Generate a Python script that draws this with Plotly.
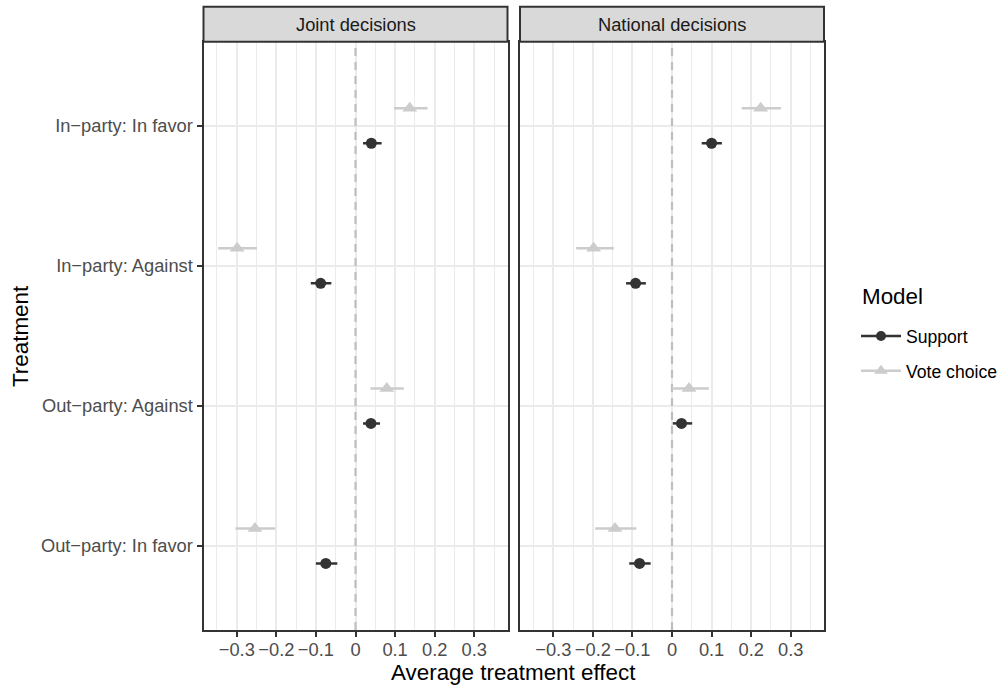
import plotly.graph_objects as go

# ---------------- data ----------------
treatments = ["In\u2212party: In favor", "In\u2212party: Against",
              "Out\u2212party: Against", "Out\u2212party: In favor"]
panels = ["Joint decisions", "National decisions"]
models = ["Support", "Vote choice"]

joint_support_est = [0.040, -0.088, 0.039, -0.075]
joint_support_lo = [0.019, -0.113, 0.019, -0.100]
joint_support_hi = [0.066, -0.061, 0.062, -0.046]
joint_vote_est = [0.137, -0.299, 0.079, -0.254]
joint_vote_lo = [0.097, -0.347, 0.038, -0.303]
joint_vote_hi = [0.182, -0.249, 0.122, -0.203]

national_support_est = [0.100, -0.092, 0.024, -0.082]
national_support_lo = [0.075, -0.116, 0.002, -0.108]
national_support_hi = [0.126, -0.066, 0.051, -0.054]
national_vote_est = [0.224, -0.198, 0.043, -0.144]
national_vote_lo = [0.176, -0.242, 0.000, -0.194]
national_vote_hi = [0.275, -0.147, 0.093, -0.090]

x_ticks = [-0.3, -0.2, -0.1, 0, 0.1, 0.2, 0.3]
x_tick_labels = ["\u22120.3", "\u22120.2", "\u22120.1", "0", "0.1", "0.2", "0.3"]
reference_x = 0  # dashed reference line

# ---------------- styling ----------------
W, H = 1003, 686
FONT = "Liberation Sans, Arial, Helvetica, sans-serif"
SMALL = 18.3
LEG = 17.6
BIG = 22.4
colors = {"Support": "#333333", "Vote choice": "#CCCCCC"}
symbols = {"Support": "circle", "Vote choice": "triangle-up"}
msize = {"Support": 11, "Vote choice": 13}
dodge = {"Support": -0.125, "Vote choice": 0.125}

n = len(treatments)
ylevel = [n - i for i in range(n)]  # top category highest
y_range = [0.4, n + 0.6]

def px_x(v):
    return v / W

def px_y(v):
    return 1 - v / H

panel_x = [(203.5, 507.5), (520.0, 824.0)]
panel_top, panel_bot, strip_top = 41.7, 630.0, 6.7

fig = go.Figure()

series = {
    ("Joint decisions", "Support"): (joint_support_est, joint_support_lo, joint_support_hi),
    ("Joint decisions", "Vote choice"): (joint_vote_est, joint_vote_lo, joint_vote_hi),
    ("National decisions", "Support"): (national_support_est, national_support_lo, national_support_hi),
    ("National decisions", "Vote choice"): (national_vote_est, national_vote_lo, national_vote_hi),
}

for pi, panel in enumerate(panels):
    xa = "x" if pi == 0 else "x2"
    ya = "y" if pi == 0 else "y2"
    # dashed reference line at zero (drawn first, under the points)
    fig.add_trace(go.Scatter(
        x=[reference_x, reference_x], y=y_range, mode="lines",
        line=dict(color="#BEBEBE", width=2.2, dash="8px,6px"),
        xaxis=xa, yaxis=ya, showlegend=False, hoverinfo="skip",
    ))
    for m in models:
        est, lo, hi = series[(panel, m)]
        fig.add_trace(go.Scatter(
            x=est,
            y=[yl + dodge[m] for yl in ylevel],
            mode="markers",
            marker=dict(symbol=symbols[m], size=msize[m], color=colors[m], line=dict(width=0)),
            error_x=dict(type="data", symmetric=False,
                         array=[h - e for h, e in zip(hi, est)],
                         arrayminus=[e - l for e, l in zip(est, lo)],
                         color=colors[m], thickness=2.5, width=0),
            xaxis=xa, yaxis=ya, showlegend=False, name=m,
            hoverinfo="x+y",
        ))

# legend-only traces
for i, m in enumerate(models):
    fig.add_trace(go.Scatter(
        x=[None], y=[None], mode="lines+markers", name=m,
        line=dict(color=colors[m], width=2.5),
        marker=dict(symbol=symbols[m], size=msize[m] - 1, color=colors[m]),
        legendgroup=m, showlegend=True, xaxis="x", yaxis="y",
    ))

axis_common = dict(
    range=[-0.384, 0.384],
    tickmode="array", tickvals=x_ticks, ticktext=x_tick_labels,
    ticks="outside", ticklen=5, tickwidth=2, tickcolor="#333333",
    tickfont=dict(family=FONT, size=SMALL, color="#4D4D4D"),
    showgrid=True, gridcolor="#EBEBEB", gridwidth=2,
    minor=dict(dtick=0.05, tick0=0, showgrid=True, gridcolor="#EBEBEB", gridwidth=1),
    showline=True, linecolor="#333333", linewidth=2, mirror=True,
    zeroline=False, fixedrange=True,
    ticklabelstandoff=-3,
)
yaxis_common = dict(
    range=y_range,
    tickmode="array", tickvals=ylevel,
    showgrid=True, gridcolor="#EBEBEB", gridwidth=2,
    showline=True, linecolor="#333333", linewidth=2, mirror=True,
    zeroline=False, fixedrange=True,
    domain=[px_y(panel_bot), px_y(panel_top)],
)

fig.update_layout(
    width=W, height=H, autosize=False,
    margin=dict(l=0, r=0, t=0, b=0),
    paper_bgcolor="white", plot_bgcolor="white",
    font=dict(family=FONT),
    xaxis=dict(domain=[px_x(panel_x[0][0]), px_x(panel_x[0][1])], anchor="y", **axis_common),
    xaxis2=dict(domain=[px_x(panel_x[1][0]), px_x(panel_x[1][1])], anchor="y2", **axis_common),
    yaxis=dict(anchor="x", ticktext=treatments, ticks="outside", ticklen=5, tickwidth=2,
               tickcolor="#333333", tickfont=dict(family=FONT, size=SMALL, color="#4D4D4D"),
               ticklabelstandoff=0, **yaxis_common),
    yaxis2=dict(anchor="x2", matches="y", showticklabels=False, ticks="", **yaxis_common),
    legend=dict(
        font=dict(family=FONT, size=LEG, color="black"),
        x=px_x(856), y=px_y(318), xanchor="left", yanchor="top",
        bgcolor="rgba(0,0,0,0)", tracegroupgap=9, itemwidth=40,
    ),
    showlegend=True,
)

shapes = []
annotations = []
for pi, panel in enumerate(panels):
    x0, x1 = panel_x[pi]
    shapes.append(dict(type="rect", xref="paper", yref="paper",
                       x0=px_x(x0), x1=px_x(x1), y0=px_y(panel_top), y1=px_y(strip_top),
                       fillcolor="#D9D9D9", line=dict(color="#333333", width=2), layer="above"))
    annotations.append(dict(text=panel, xref="paper", yref="paper",
                            x=px_x((x0 + x1) / 2), y=px_y((panel_top + strip_top) / 2),
                            showarrow=False, xanchor="center", yanchor="middle",
                            font=dict(family=FONT, size=SMALL, color="#1A1A1A")))

annotations.append(dict(text="Model", xref="paper", yref="paper",
                        x=px_x(860), y=px_y(296), showarrow=False,
                        xanchor="left", yanchor="middle",
                        font=dict(family=FONT, size=BIG, color="black")))
annotations.append(dict(text="Average treatment effect", xref="paper", yref="paper",
                        x=px_x((panel_x[0][0] + panel_x[1][1]) / 2), y=px_y(672),
                        showarrow=False, xanchor="center", yanchor="middle",
                        font=dict(family=FONT, size=BIG, color="black")))
annotations.append(dict(text="Treatment", xref="paper", yref="paper",
                        x=px_x(20), y=px_y(336), textangle=-90,
                        showarrow=False, xanchor="center", yanchor="middle",
                        font=dict(family=FONT, size=BIG, color="black")))

fig.update_layout(shapes=shapes, annotations=annotations)

fig.write_html("out.html")
